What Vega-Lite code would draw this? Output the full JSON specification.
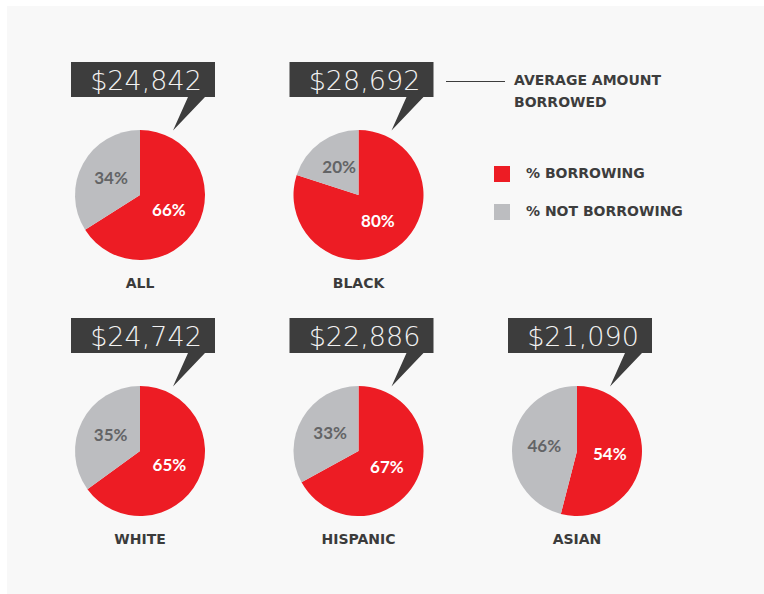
{
  "$schema": "https://vega.github.io/schema/vega-lite/v6.json",
  "width": 764,
  "height": 594,
  "autosize": {"type": "fit", "contains": "padding"},
  "padding": {"left": 7, "top": 6, "right": 0, "bottom": 0},
  "background": "#ffffff",
  "config": {"view": {"stroke": null, "fill": "#f8f8f8"}},
  "data": {
    "values": [
      {"group": "ALL", "col": 1, "row": 1, "status": "% BORROWING", "share": 0.66, "amount": 24842},
      {"group": "ALL", "col": 1, "row": 1, "status": "% NOT BORROWING", "share": 0.34, "amount": 24842},
      {"group": "BLACK", "col": 2, "row": 1, "status": "% BORROWING", "share": 0.80, "amount": 28692},
      {"group": "BLACK", "col": 2, "row": 1, "status": "% NOT BORROWING", "share": 0.20, "amount": 28692},
      {"group": "WHITE", "col": 1, "row": 2, "status": "% BORROWING", "share": 0.65, "amount": 24742},
      {"group": "WHITE", "col": 1, "row": 2, "status": "% NOT BORROWING", "share": 0.35, "amount": 24742},
      {"group": "HISPANIC", "col": 2, "row": 2, "status": "% BORROWING", "share": 0.67, "amount": 22886},
      {"group": "HISPANIC", "col": 2, "row": 2, "status": "% NOT BORROWING", "share": 0.33, "amount": 22886},
      {"group": "ASIAN", "col": 3, "row": 2, "status": "% BORROWING", "share": 0.54, "amount": 21090},
      {"group": "ASIAN", "col": 3, "row": 2, "status": "% NOT BORROWING", "share": 0.46, "amount": 21090}
    ]
  },
  "encoding": {
    "x": {"field": "col", "type": "quantitative", "scale": {"domain": [1, 3], "range": [133, 570], "nice": false, "zero": false}, "axis": null},
    "y": {"field": "row", "type": "quantitative", "scale": {"domain": [1, 2], "range": [189, 445], "nice": false, "zero": false}, "axis": null}
  },
  "layer": [
    {
      "transform": [
        {"stack": "share", "groupby": ["group"], "sort": [{"field": "status", "order": "ascending"}], "as": ["s0", "s1"]}
      ],
      "mark": {"type": "arc", "outerRadius": 65, "strokeWidth": 0},
      "encoding": {
        "theta": {"field": "s0", "type": "quantitative", "stack": null, "scale": {"domain": [0, 1], "range": [0, 6.283185307179586]}},
        "theta2": {"field": "s1"},
        "color": {
          "field": "status",
          "type": "nominal",
          "scale": {"domain": ["% BORROWING", "% NOT BORROWING"], "range": ["#ed1c24", "#bcbdc0"]},
          "legend": {
            "orient": "none",
            "legendX": 487,
            "legendY": 160,
            "title": null,
            "symbolType": "square",
            "symbolSize": 256,
            "symbolStrokeWidth": 0,
            "symbolOpacity": 1,
            "labelFont": "DejaVu Sans",
            "labelFontWeight": "bold",
            "labelFontSize": 14,
            "labelColor": "#3d3d3d",
            "labelOffset": 16,
            "rowPadding": 22,
            "padding": 0
          }
        }
      }
    },
    {
      "transform": [
        {"stack": "share", "groupby": ["group"], "sort": [{"field": "status", "order": "ascending"}], "as": ["s0", "s1"]},
        {"fold": ["s0", "s1"], "as": ["edge", "angle"]},
        {"aggregate": [{"op": "mean", "field": "angle", "as": "mid"}], "groupby": ["group", "col", "row", "status", "share"]}
      ],
      "mark": {"type": "text", "radius": 33, "font": "Lato", "fontWeight": "bold", "fontSize": 17, "align": "center", "baseline": "middle"},
      "encoding": {
        "theta": {"field": "mid", "type": "quantitative", "stack": null},
        "text": {"field": "share", "type": "quantitative", "format": ".0%"},
        "color": {"condition": {"test": "datum.status === '% BORROWING'", "value": "#ffffff"}, "value": "#636466"}
      }
    },
    {
      "transform": [{"filter": "datum.status === '% BORROWING'"}],
      "mark": {
        "type": "point",
        "shape": "M-1,-0.243L1,-0.243L1,0.243L0.861,0.243L0.417,0.708L0.625,0.243L-1,0.243Z",
        "size": 20736,
        "filled": true,
        "color": "#3d3d3d",
        "opacity": 1,
        "strokeWidth": 0,
        "xOffset": 3,
        "yOffset": -115.5
      }
    },
    {
      "transform": [{"filter": "datum.status === '% BORROWING'"}],
      "mark": {"type": "text", "font": "DejaVu Sans", "fontWeight": 200, "fontSize": 27, "color": "#f2f2f2", "align": "center", "baseline": "middle", "dx": 6, "dy": -113.5},
      "encoding": {
        "text": {"field": "amount", "type": "quantitative", "format": "$,d"}
      }
    },
    {
      "transform": [{"filter": "datum.status === '% BORROWING'"}],
      "mark": {"type": "text", "font": "DejaVu Sans", "fontWeight": "bold", "fontSize": 14, "color": "#3b3b3b", "align": "center", "baseline": "middle", "dy": 89},
      "encoding": {
        "text": {"field": "group", "type": "nominal"}
      }
    },
    {
      "transform": [{"filter": "datum.status === '% BORROWING' && datum.group === 'BLACK'"}],
      "mark": {"type": "rule", "color": "#3d3d3d", "strokeWidth": 1, "xOffset": 87.5, "x2Offset": 146.5, "yOffset": -113.5},
      "encoding": {
        "x2": {"field": "col"}
      }
    },
    {
      "transform": [{"filter": "datum.status === '% BORROWING' && datum.group === 'BLACK'"}],
      "mark": {"type": "text", "text": ["AVERAGE AMOUNT", "BORROWED"], "lineHeight": 22, "font": "DejaVu Sans", "fontWeight": "bold", "fontSize": 14, "color": "#3d3d3d", "align": "left", "baseline": "middle", "dx": 155.5, "dy": -114}
    }
  ]
}
